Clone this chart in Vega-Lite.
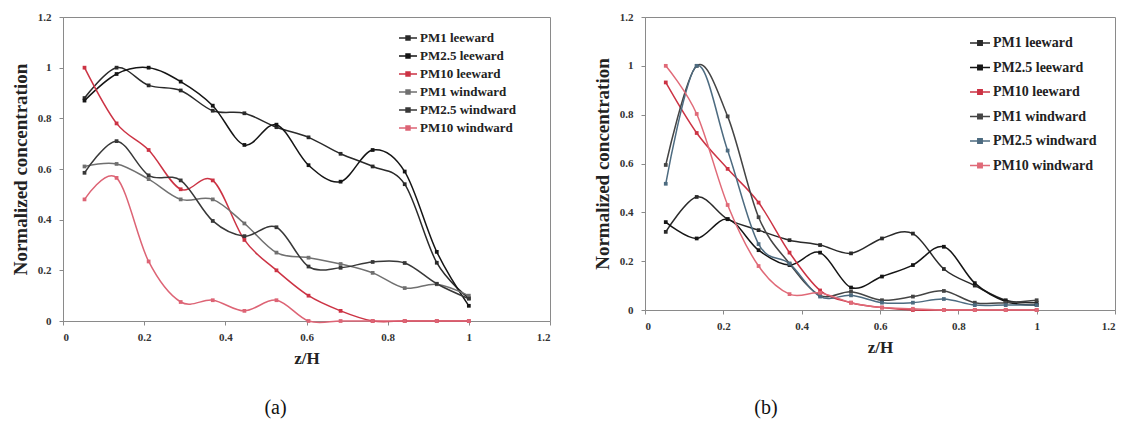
{
  "$schema": "https://vega.github.io/schema/vega-lite/v6.json",
  "background": "white",
  "padding": {"left": 10, "top": 10, "right": 5, "bottom": 0},
  "spacing": 41,
  "config": {
    "view": {"stroke": "#8a8a8a", "strokeWidth": 1},
    "axis": {
      "labelFont": "Liberation Serif", "labelFontWeight": "bold", "labelFontSize": 11, "labelColor": "#333",
      "titleFont": "Liberation Serif", "titleFontWeight": "bold", "titleColor": "#222",
      "domainColor": "#8a8a8a", "tickColor": "#8a8a8a", "tickSize": 4, "grid": false
    },
    "axisX": {"labelPadding": 6, "titleFontSize": 17, "titlePadding": 8},
    "axisY": {"labelPadding": 8, "titleFontSize": 19, "titlePadding": 7},
    "legend": {
      "labelFont": "Liberation Serif", "labelFontWeight": "bold", "labelColor": "#222",
      "symbolType": "M-1,0L1,0M-0.22,-0.22L0.22,-0.22L0.22,0.22L-0.22,0.22Z",
      "symbolStrokeWidth": 1.5, "labelOffset": 2, "title": null
    },
    "title": {"font": "Liberation Serif", "fontSize": 20, "fontWeight": "normal", "color": "#111"}
  },
  "datasets": {
    "a": [
      {"s": "PM1 leeward", "x": 0.053, "y": 0.88}, {"s": "PM1 leeward", "x": 0.132, "y": 1.0}, {"s": "PM1 leeward", "x": 0.211, "y": 0.93}, {"s": "PM1 leeward", "x": 0.29, "y": 0.91}, {"s": "PM1 leeward", "x": 0.369, "y": 0.83}, {"s": "PM1 leeward", "x": 0.447, "y": 0.82}, {"s": "PM1 leeward", "x": 0.526, "y": 0.765}, {"s": "PM1 leeward", "x": 0.605, "y": 0.725}, {"s": "PM1 leeward", "x": 0.684, "y": 0.66}, {"s": "PM1 leeward", "x": 0.763, "y": 0.61}, {"s": "PM1 leeward", "x": 0.842, "y": 0.54}, {"s": "PM1 leeward", "x": 0.921, "y": 0.23}, {"s": "PM1 leeward", "x": 1.0, "y": 0.09},
      {"s": "PM2.5 leeward", "x": 0.053, "y": 0.87}, {"s": "PM2.5 leeward", "x": 0.132, "y": 0.975}, {"s": "PM2.5 leeward", "x": 0.211, "y": 1.0}, {"s": "PM2.5 leeward", "x": 0.29, "y": 0.945}, {"s": "PM2.5 leeward", "x": 0.369, "y": 0.85}, {"s": "PM2.5 leeward", "x": 0.447, "y": 0.695}, {"s": "PM2.5 leeward", "x": 0.526, "y": 0.775}, {"s": "PM2.5 leeward", "x": 0.605, "y": 0.615}, {"s": "PM2.5 leeward", "x": 0.684, "y": 0.55}, {"s": "PM2.5 leeward", "x": 0.763, "y": 0.675}, {"s": "PM2.5 leeward", "x": 0.842, "y": 0.59}, {"s": "PM2.5 leeward", "x": 0.921, "y": 0.273}, {"s": "PM2.5 leeward", "x": 1.0, "y": 0.06},
      {"s": "PM10 leeward", "x": 0.053, "y": 1.0}, {"s": "PM10 leeward", "x": 0.132, "y": 0.78}, {"s": "PM10 leeward", "x": 0.211, "y": 0.675}, {"s": "PM10 leeward", "x": 0.29, "y": 0.52}, {"s": "PM10 leeward", "x": 0.369, "y": 0.555}, {"s": "PM10 leeward", "x": 0.447, "y": 0.32}, {"s": "PM10 leeward", "x": 0.526, "y": 0.2}, {"s": "PM10 leeward", "x": 0.605, "y": 0.1}, {"s": "PM10 leeward", "x": 0.684, "y": 0.04}, {"s": "PM10 leeward", "x": 0.763, "y": 0.0}, {"s": "PM10 leeward", "x": 0.842, "y": 0.0}, {"s": "PM10 leeward", "x": 0.921, "y": 0.0}, {"s": "PM10 leeward", "x": 1.0, "y": 0.0},
      {"s": "PM1 windward", "x": 0.053, "y": 0.61}, {"s": "PM1 windward", "x": 0.132, "y": 0.62}, {"s": "PM1 windward", "x": 0.211, "y": 0.56}, {"s": "PM1 windward", "x": 0.29, "y": 0.48}, {"s": "PM1 windward", "x": 0.369, "y": 0.48}, {"s": "PM1 windward", "x": 0.447, "y": 0.385}, {"s": "PM1 windward", "x": 0.526, "y": 0.27}, {"s": "PM1 windward", "x": 0.605, "y": 0.25}, {"s": "PM1 windward", "x": 0.684, "y": 0.225}, {"s": "PM1 windward", "x": 0.763, "y": 0.19}, {"s": "PM1 windward", "x": 0.842, "y": 0.13}, {"s": "PM1 windward", "x": 0.921, "y": 0.145}, {"s": "PM1 windward", "x": 1.0, "y": 0.1},
      {"s": "PM2.5 windward", "x": 0.053, "y": 0.585}, {"s": "PM2.5 windward", "x": 0.132, "y": 0.71}, {"s": "PM2.5 windward", "x": 0.211, "y": 0.575}, {"s": "PM2.5 windward", "x": 0.29, "y": 0.555}, {"s": "PM2.5 windward", "x": 0.369, "y": 0.395}, {"s": "PM2.5 windward", "x": 0.447, "y": 0.335}, {"s": "PM2.5 windward", "x": 0.526, "y": 0.37}, {"s": "PM2.5 windward", "x": 0.605, "y": 0.215}, {"s": "PM2.5 windward", "x": 0.684, "y": 0.21}, {"s": "PM2.5 windward", "x": 0.763, "y": 0.233}, {"s": "PM2.5 windward", "x": 0.842, "y": 0.229}, {"s": "PM2.5 windward", "x": 0.921, "y": 0.147}, {"s": "PM2.5 windward", "x": 1.0, "y": 0.088},
      {"s": "PM10 windward", "x": 0.053, "y": 0.48}, {"s": "PM10 windward", "x": 0.132, "y": 0.565}, {"s": "PM10 windward", "x": 0.211, "y": 0.235}, {"s": "PM10 windward", "x": 0.29, "y": 0.075}, {"s": "PM10 windward", "x": 0.369, "y": 0.082}, {"s": "PM10 windward", "x": 0.447, "y": 0.04}, {"s": "PM10 windward", "x": 0.526, "y": 0.082}, {"s": "PM10 windward", "x": 0.605, "y": 0.0}, {"s": "PM10 windward", "x": 0.684, "y": 0.0}, {"s": "PM10 windward", "x": 0.763, "y": 0.0}, {"s": "PM10 windward", "x": 0.842, "y": 0.0}, {"s": "PM10 windward", "x": 0.921, "y": 0.0}, {"s": "PM10 windward", "x": 1.0, "y": 0.0}
    ],
    "b": [
      {"s": "PM1 leeward", "x": 0.053, "y": 0.32}, {"s": "PM1 leeward", "x": 0.132, "y": 0.463}, {"s": "PM1 leeward", "x": 0.211, "y": 0.372}, {"s": "PM1 leeward", "x": 0.29, "y": 0.327}, {"s": "PM1 leeward", "x": 0.369, "y": 0.286}, {"s": "PM1 leeward", "x": 0.447, "y": 0.266}, {"s": "PM1 leeward", "x": 0.526, "y": 0.232}, {"s": "PM1 leeward", "x": 0.605, "y": 0.293}, {"s": "PM1 leeward", "x": 0.684, "y": 0.313}, {"s": "PM1 leeward", "x": 0.763, "y": 0.168}, {"s": "PM1 leeward", "x": 0.842, "y": 0.1}, {"s": "PM1 leeward", "x": 0.921, "y": 0.04}, {"s": "PM1 leeward", "x": 1.0, "y": 0.03},
      {"s": "PM2.5 leeward", "x": 0.053, "y": 0.36}, {"s": "PM2.5 leeward", "x": 0.132, "y": 0.293}, {"s": "PM2.5 leeward", "x": 0.211, "y": 0.372}, {"s": "PM2.5 leeward", "x": 0.29, "y": 0.245}, {"s": "PM2.5 leeward", "x": 0.369, "y": 0.184}, {"s": "PM2.5 leeward", "x": 0.447, "y": 0.235}, {"s": "PM2.5 leeward", "x": 0.526, "y": 0.092}, {"s": "PM2.5 leeward", "x": 0.605, "y": 0.137}, {"s": "PM2.5 leeward", "x": 0.684, "y": 0.184}, {"s": "PM2.5 leeward", "x": 0.763, "y": 0.259}, {"s": "PM2.5 leeward", "x": 0.842, "y": 0.11}, {"s": "PM2.5 leeward", "x": 0.921, "y": 0.035}, {"s": "PM2.5 leeward", "x": 1.0, "y": 0.02},
      {"s": "PM10 leeward", "x": 0.053, "y": 0.932}, {"s": "PM10 leeward", "x": 0.132, "y": 0.725}, {"s": "PM10 leeward", "x": 0.211, "y": 0.578}, {"s": "PM10 leeward", "x": 0.29, "y": 0.44}, {"s": "PM10 leeward", "x": 0.369, "y": 0.235}, {"s": "PM10 leeward", "x": 0.447, "y": 0.08}, {"s": "PM10 leeward", "x": 0.526, "y": 0.03}, {"s": "PM10 leeward", "x": 0.605, "y": 0.01}, {"s": "PM10 leeward", "x": 0.684, "y": 0.0}, {"s": "PM10 leeward", "x": 0.763, "y": 0.0}, {"s": "PM10 leeward", "x": 0.842, "y": 0.0}, {"s": "PM10 leeward", "x": 0.921, "y": 0.0}, {"s": "PM10 leeward", "x": 1.0, "y": 0.0},
      {"s": "PM1 windward", "x": 0.053, "y": 0.594}, {"s": "PM1 windward", "x": 0.132, "y": 1.0}, {"s": "PM1 windward", "x": 0.211, "y": 0.793}, {"s": "PM1 windward", "x": 0.29, "y": 0.38}, {"s": "PM1 windward", "x": 0.369, "y": 0.19}, {"s": "PM1 windward", "x": 0.447, "y": 0.06}, {"s": "PM1 windward", "x": 0.526, "y": 0.075}, {"s": "PM1 windward", "x": 0.605, "y": 0.04}, {"s": "PM1 windward", "x": 0.684, "y": 0.055}, {"s": "PM1 windward", "x": 0.763, "y": 0.078}, {"s": "PM1 windward", "x": 0.842, "y": 0.03}, {"s": "PM1 windward", "x": 0.921, "y": 0.03}, {"s": "PM1 windward", "x": 1.0, "y": 0.04},
      {"s": "PM2.5 windward", "x": 0.053, "y": 0.517}, {"s": "PM2.5 windward", "x": 0.132, "y": 1.0}, {"s": "PM2.5 windward", "x": 0.211, "y": 0.653}, {"s": "PM2.5 windward", "x": 0.29, "y": 0.27}, {"s": "PM2.5 windward", "x": 0.369, "y": 0.19}, {"s": "PM2.5 windward", "x": 0.447, "y": 0.055}, {"s": "PM2.5 windward", "x": 0.526, "y": 0.06}, {"s": "PM2.5 windward", "x": 0.605, "y": 0.03}, {"s": "PM2.5 windward", "x": 0.684, "y": 0.03}, {"s": "PM2.5 windward", "x": 0.763, "y": 0.045}, {"s": "PM2.5 windward", "x": 0.842, "y": 0.02}, {"s": "PM2.5 windward", "x": 0.921, "y": 0.02}, {"s": "PM2.5 windward", "x": 1.0, "y": 0.02},
      {"s": "PM10 windward", "x": 0.053, "y": 1.0}, {"s": "PM10 windward", "x": 0.132, "y": 0.803}, {"s": "PM10 windward", "x": 0.211, "y": 0.43}, {"s": "PM10 windward", "x": 0.29, "y": 0.18}, {"s": "PM10 windward", "x": 0.369, "y": 0.065}, {"s": "PM10 windward", "x": 0.447, "y": 0.07}, {"s": "PM10 windward", "x": 0.526, "y": 0.03}, {"s": "PM10 windward", "x": 0.605, "y": 0.01}, {"s": "PM10 windward", "x": 0.684, "y": 0.005}, {"s": "PM10 windward", "x": 0.763, "y": 0.0}, {"s": "PM10 windward", "x": 0.842, "y": 0.0}, {"s": "PM10 windward", "x": 0.921, "y": 0.0}, {"s": "PM10 windward", "x": 1.0, "y": 0.0}
    ]
  },
  "resolve": {"scale": {"color": "independent"}, "legend": {"color": "independent"}},
  "hconcat": [
    {
      "width": 487, "height": 304,
      "data": {"name": "a"},
      "title": {"text": "(a)", "orient": "bottom", "anchor": "middle", "dx": -31, "offset": 32},
      "encoding": {
        "x": {"field": "x", "type": "quantitative", "scale": {"domain": [0, 1.2], "nice": false}, "axis": {"values": [0, 0.2, 0.4, 0.6, 0.8, 1, 1.2], "format": "~g", "title": "z/H"}},
        "y": {"field": "y", "type": "quantitative", "scale": {"domain": [0, 1.2], "nice": false}, "axis": {"values": [0, 0.2, 0.4, 0.6, 0.8, 1, 1.2], "format": "~g", "title": "Normalized concentration"}},
        "color": {"field": "s", "type": "nominal", "scale": {"domain": ["PM1 leeward", "PM2.5 leeward", "PM10 leeward", "PM1 windward", "PM2.5 windward", "PM10 windward"], "range": ["#2a2a2a", "#151515", "#cc3344", "#707070", "#383838", "#dd6475"]}, "legend": {"orient": "none", "legendX": 335, "legendY": 11, "labelFontSize": 13, "symbolSize": 324, "rowPadding": 1}}
      },
      "layer": [
        {"mark": {"type": "line", "interpolate": "cardinal", "tension": 0, "strokeWidth": 1.5}},
        {"mark": {"type": "point", "filled": true, "shape": "square", "size": 14, "opacity": 1}}
      ]
    },
    {
      "width": 470, "height": 293,
      "data": {"name": "b"},
      "title": {"text": "(b)", "orient": "bottom", "anchor": "middle", "dx": -114, "offset": 43},
      "encoding": {
        "x": {"field": "x", "type": "quantitative", "scale": {"domain": [0, 1.2], "nice": false}, "axis": {"values": [0, 0.2, 0.4, 0.6, 0.8, 1, 1.2], "format": "~g", "title": "z/H"}},
        "y": {"field": "y", "type": "quantitative", "scale": {"domain": [0, 1.2], "nice": false}, "axis": {"values": [0, 0.2, 0.4, 0.6, 0.8, 1, 1.2], "format": "~g", "title": "Normalized concentration"}},
        "color": {"field": "s", "type": "nominal", "scale": {"domain": ["PM1 leeward", "PM2.5 leeward", "PM10 leeward", "PM1 windward", "PM2.5 windward", "PM10 windward"], "range": ["#2a2a2a", "#151515", "#cc3344", "#444444", "#4d6b80", "#e06a78"]}, "legend": {"orient": "none", "legendX": 324, "legendY": 15, "labelFontSize": 14, "symbolSize": 400, "rowPadding": 6.5}}
      },
      "layer": [
        {"mark": {"type": "line", "interpolate": "cardinal", "tension": 0, "strokeWidth": 1.5}},
        {"mark": {"type": "point", "filled": true, "shape": "square", "size": 14, "opacity": 1}}
      ]
    }
  ]
}
